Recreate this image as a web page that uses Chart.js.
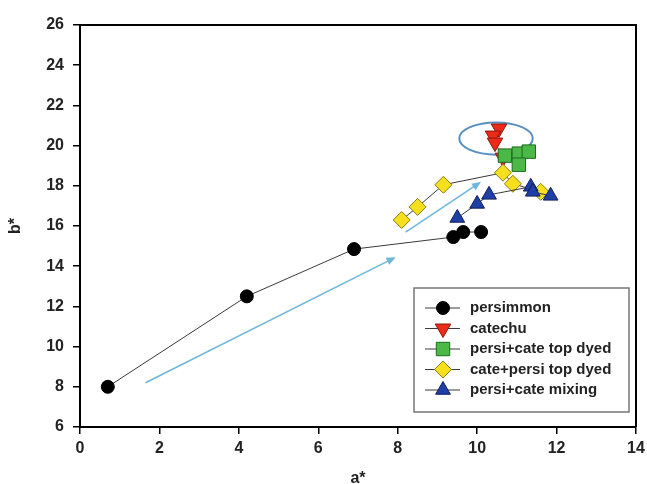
<!DOCTYPE html>
<html>
<head>
<meta charset="utf-8">
<script src="https://cdn.jsdelivr.net/npm/chart.js@4.4.1/dist/chart.umd.min.js"></script>
<style>
  html, body { margin: 0; padding: 0; background: #fff; }
  #wrap { width: 647px; height: 484px; }
</style>
</head>
<body>
<div id="wrap"><canvas id="lab-chart" width="647" height="484"></canvas></div>
<script>
// a* / b* readings per treatment
const seriesNames = ["persimmon", "catechu", "persi+cate top dyed", "cate+persi top dyed", "persi+cate mixing"];

const persimmonA = [0.7, 4.2, 6.9, 9.4, 9.65, 10.1];
const persimmonB = [8.0, 12.5, 14.85, 15.45, 15.7, 15.7];

const catechuA = [10.55, 10.4, 10.45, 10.65];
const catechuB = [20.85, 20.5, 20.15, 19.4];

const topDyedA = [10.7, 11.05, 11.3, 11.05];
const topDyedB = [19.5, 19.6, 19.7, 19.05];

const cateTopA = [8.1, 8.5, 9.15, 10.65, 10.9, 11.6];
const cateTopB = [16.3, 16.95, 18.05, 18.65, 18.1, 17.7];

const mixingA = [9.5, 10.0, 10.3, 11.35, 11.4, 11.85];
const mixingB = [16.4, 17.1, 17.55, 17.95, 17.7, 17.5];

const xTicks = [0, 2, 4, 6, 8, 10, 12, 14];
const yTicks = [6, 8, 10, 12, 14, 16, 18, 20, 22, 24, 26];

// trend arrows (start -> end, in a*/b*)
const arrowStartA = [1.65, 8.2];
const arrowStartB = [8.2, 15.7];
const arrowEndA = [7.95, 10.1];
const arrowEndB = [14.45, 18.2];

// ellipse around catechu points (a* range, b* range)
const ellipseA = [9.55, 11.4];
const ellipseB = [19.55, 21.15];

const FONT = "'Liberation Sans', Arial, sans-serif";

function pts(xs, ys) {
    return xs.map((x, i) => ({ x: x, y: ys[i] }));
}

function makeSet(idx, xs, ys, style, fill, edge, radius, rotation, order) {
    return {
        label: seriesNames[idx],
        data: pts(xs, ys),
        showLine: true,
        borderColor: "#3a3a3a",
        borderWidth: 1,
        pointStyle: style,
        pointRotation: rotation,
        pointRadius: radius,
        pointHoverRadius: radius,
        pointBackgroundColor: fill,
        pointBorderColor: edge,
        pointBorderWidth: 1,
        order: order,
    };
}

const datasets = [
    makeSet(0, persimmonA, persimmonB, "circle", "#000000", "#000000", 6.5, 0, 5),
    makeSet(1, catechuA, catechuB, "triangle", "#ec2a18", "#8a1a10", 9, 180, 4),
    makeSet(2, topDyedA, topDyedB, "rect", "#4cb848", "#1d6b1d", 9.5, 0, 3),
    makeSet(3, cateTopA, cateTopB, "rectRot", "#f6e01e", "#8a7d10", 8.5, 0, 2),
    makeSet(4, mixingA, mixingB, "triangle", "#1f3fa6", "#0e1f5c", 8.5, 0, 1),
];

const annotationPlugin = {
    id: "annotations",
    beforeDatasetsDraw(chart) {
        const ctx = chart.ctx;
        const xs = chart.scales.x;
        const ys = chart.scales.y;
        ctx.save();
        // arrows
        ctx.strokeStyle = "#6cb6de";
        ctx.fillStyle = "#6cb6de";
        ctx.lineWidth = 1.5;
        for (let i = 0; i < arrowStartA.length; i++) {
            const x1 = xs.getPixelForValue(arrowStartA[i]);
            const y1 = ys.getPixelForValue(arrowStartB[i]);
            const x2 = xs.getPixelForValue(arrowEndA[i]);
            const y2 = ys.getPixelForValue(arrowEndB[i]);
            const ang = Math.atan2(y2 - y1, x2 - x1);
            ctx.beginPath();
            ctx.moveTo(x1, y1);
            ctx.lineTo(x2 - 6 * Math.cos(ang), y2 - 6 * Math.sin(ang));
            ctx.stroke();
            ctx.beginPath();
            ctx.moveTo(x2, y2);
            ctx.lineTo(x2 - 10 * Math.cos(ang - 0.4), y2 - 10 * Math.sin(ang - 0.4));
            ctx.lineTo(x2 - 10 * Math.cos(ang + 0.4), y2 - 10 * Math.sin(ang + 0.4));
            ctx.closePath();
            ctx.fill();
        }
        // ellipse
        const ex1 = xs.getPixelForValue(ellipseA[0]);
        const ex2 = xs.getPixelForValue(ellipseA[1]);
        const ey1 = ys.getPixelForValue(ellipseB[1]);
        const ey2 = ys.getPixelForValue(ellipseB[0]);
        ctx.strokeStyle = "#5a90c0";
        ctx.lineWidth = 2;
        ctx.beginPath();
        ctx.ellipse((ex1 + ex2) / 2, (ey1 + ey2) / 2, (ex2 - ex1) / 2, (ey2 - ey1) / 2, 0, 0, Math.PI * 2);
        ctx.stroke();
        ctx.restore();
    },
    afterDraw(chart) {
        const ctx = chart.ctx;
        const area = chart.chartArea;
        ctx.save();
        // top and right frame
        ctx.strokeStyle = "#000";
        ctx.lineWidth = 2;
        ctx.beginPath();
        ctx.moveTo(area.left, area.top);
        ctx.lineTo(area.right, area.top);
        ctx.lineTo(area.right, area.bottom);
        ctx.stroke();

        // legend box
        const bx = area.left + 334, by = area.top + 263, bw = 215, bh = 124;
        ctx.strokeStyle = "#777";
        ctx.lineWidth = 1.5;
        ctx.strokeRect(bx, by, bw, bh);
        ctx.font = "bold 15px " + FONT;
        ctx.textBaseline = "middle";
        chart.data.datasets.forEach((ds, i) => {
            const y = by + 20 + i * 20.5;
            ctx.strokeStyle = "#3a3a3a";
            ctx.lineWidth = 1;
            ctx.beginPath();
            ctx.moveTo(bx + 11, y);
            ctx.lineTo(bx + 46, y);
            ctx.stroke();
            ctx.fillStyle = ds.pointBackgroundColor;
            ctx.strokeStyle = ds.pointBorderColor;
            ctx.lineWidth = 1;
            Chart.helpers.drawPoint(ctx, {
                pointStyle: ds.pointStyle,
                rotation: ds.pointRotation,
                radius: ds.pointRadius,
                borderWidth: 1,
            }, bx + 29, y);
            ctx.fillStyle = "#222";
            ctx.fillText(ds.label, bx + 56, y);
        });
        ctx.restore();
    },
};

new Chart(document.getElementById("lab-chart"), {
    type: "scatter",
    data: { datasets: datasets },
    plugins: [annotationPlugin],
    options: {
        responsive: false,
        animation: false,
        layout: { padding: { left: 0, top: 25, right: 11, bottom: 0 } },
        scales: {
            x: {
                type: "linear",
                min: xTicks[0],
                max: xTicks[xTicks.length - 1],
                afterBuildTicks: (axis) => { axis.ticks = xTicks.map((v) => ({ value: v })); },
                afterFit: (axis) => {
                    axis.height = 57;
                    axis.paddingLeft = 0;
                    axis.paddingRight = 0;
                },
                grid: { drawOnChartArea: false, tickLength: 7, color: "#000", lineWidth: 1.5 },
                border: { color: "#000", width: 2 },
                ticks: { color: "#222", padding: 5, font: { family: FONT, size: 16, weight: "bold" } },
                title: {
                    display: true,
                    text: "a*",
                    color: "#222",
                    padding: { top: 0, bottom: -4 },
                    font: { family: FONT, size: 16, weight: "bold" },
                },
            },
            y: {
                type: "linear",
                min: yTicks[0],
                max: yTicks[yTicks.length - 1],
                afterBuildTicks: (axis) => { axis.ticks = yTicks.map((v) => ({ value: v })); },
                afterFit: (axis) => { axis.width = 80; },
                grid: { drawOnChartArea: false, tickLength: 7, color: "#000", lineWidth: 1.5 },
                border: { color: "#000", width: 2 },
                ticks: { color: "#222", padding: 9, font: { family: FONT, size: 16, weight: "bold" } },
                title: {
                    display: true,
                    text: "b*",
                    color: "#222",
                    padding: { top: 6, bottom: 0 },
                    font: { family: FONT, size: 16, weight: "bold" },
                },
            },
        },
        plugins: {
            legend: { display: false },
            tooltip: { enabled: false },
        },
    },
});
</script>
</body>
</html>
